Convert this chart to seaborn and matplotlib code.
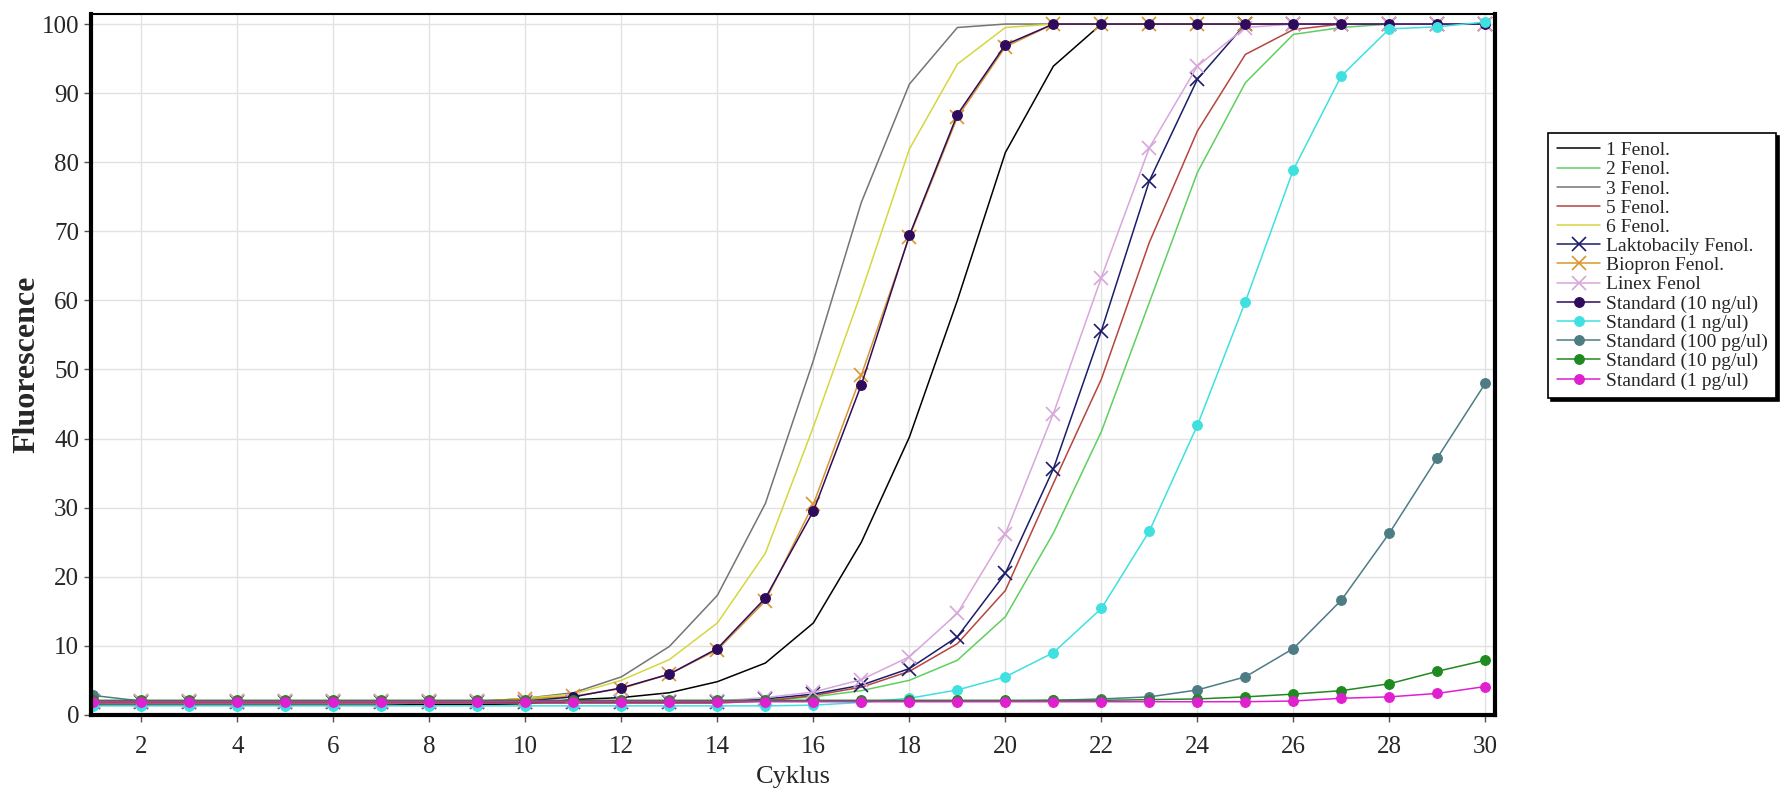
import matplotlib
matplotlib.use("Agg")
import matplotlib.pyplot as plt
import seaborn as sns
import pandas as pd

cycles = list(range(1, 31))

fenol_1 = [1.4, 1.4, 1.4, 1.4, 1.4, 1.4, 1.4, 1.5, 1.5, 1.6,
           2.2, 2.5, 3.2, 4.8, 7.5, 13.3, 25.0, 40.2, 60.0, 81.4,
           93.9, 100, 100, 100, 100, 100, 100, 100, 100, 100]
fenol_2 = [1.8, 1.8, 1.8, 1.8, 1.8, 1.8, 1.8, 1.8, 1.8, 1.8,
           1.8, 1.8, 1.8, 1.8, 2.1, 2.6, 3.5, 5.0, 7.9, 14.2,
           26.3, 41.0, 59.7, 78.5, 91.5, 98.5, 99.5, 100, 100, 100]
fenol_3 = [1.8, 1.8, 1.8, 1.8, 1.8, 1.8, 1.8, 1.8, 1.9, 2.4,
           3.2, 5.5, 9.9, 17.3, 30.6, 51.3, 74.2, 91.3, 99.5, 100,
           100, 100, 100, 100, 100, 100, 100, 100, 100, 100]
fenol_5 = [1.7, 1.7, 1.7, 1.7, 1.7, 1.7, 1.7, 1.7, 1.7, 1.7,
           1.7, 1.7, 1.7, 1.7, 2.0, 2.8, 4.0, 6.3, 10.3, 18.0,
           33.5, 48.6, 68.4, 84.5, 95.6, 99.2, 100, 100, 100, 100]
fenol_6 = [1.9, 1.9, 1.9, 1.9, 1.9, 1.9, 1.9, 1.9, 1.9, 2.4,
           3.0, 5.0, 8.0, 13.3, 23.4, 41.7, 61.2, 81.9, 94.2, 99.5,
           100, 100, 100, 100, 100, 100, 100, 100, 100, 100]
laktobacily = [1.9, 1.9, 1.9, 1.9, 1.9, 1.9, 1.9, 1.9, 1.9, 1.9,
               1.9, 1.9, 1.9, 1.9, 2.3, 3.0, 4.3, 6.7, 11.3, 20.5,
               35.6, 55.6, 77.3, 92.0, 100, 100, 100, 100, 100, 100]
biopron = [2.0, 2.0, 2.0, 2.0, 2.0, 2.0, 2.0, 2.0, 2.0, 2.3,
           2.7, 3.8, 5.9, 9.4, 16.5, 30.5, 49.2, 69.2, 86.5, 96.7,
           100, 100, 100, 100, 100, 100, 100, 100, 100, 100]
linex = [2.0, 2.0, 2.0, 2.0, 2.0, 2.0, 2.0, 2.0, 2.0, 2.0,
         2.0, 2.0, 2.0, 2.0, 2.5, 3.3, 5.1, 8.4, 14.7, 26.2,
         43.6, 63.3, 82.1, 93.9, 99.5, 100, 100, 100, 100, 100]
std_10ng = [2.0, 2.0, 2.0, 2.0, 2.0, 2.0, 2.0, 2.0, 2.0, 2.0,
            2.6, 3.9, 5.9, 9.6, 16.9, 29.5, 47.8, 69.4, 86.9, 97.0,
            100, 100, 100, 100, 100, 100, 100, 100, 100, 100]
std_1ng = [1.3, 1.3, 1.3, 1.3, 1.3, 1.3, 1.3, 1.3, 1.3, 1.3,
           1.3, 1.3, 1.3, 1.3, 1.3, 1.4, 1.8, 2.4, 3.6, 5.5,
           9.0, 15.4, 26.6, 41.9, 59.8, 78.9, 92.5, 99.3, 99.6, 100.3]
std_100pg = [2.8, 2.0, 2.0, 2.0, 2.0, 2.0, 2.0, 2.0, 2.0, 2.0,
             2.0, 2.0, 2.0, 2.0, 2.0, 2.0, 2.0, 2.0, 2.0, 2.0,
             2.1, 2.3, 2.6, 3.6, 5.5, 9.6, 16.6, 26.3, 37.2, 48.0]
std_10pg = [2.1, 2.1, 2.1, 2.1, 2.1, 2.1, 2.1, 2.1, 2.1, 2.1,
            2.1, 2.1, 2.1, 2.1, 2.1, 2.1, 2.1, 2.1, 2.1, 2.1,
            2.1, 2.1, 2.2, 2.3, 2.6, 3.0, 3.5, 4.5, 6.3, 7.9]
std_1pg = [1.9, 1.9, 1.9, 1.9, 1.9, 1.9, 1.9, 1.9, 1.9, 1.9,
           1.9, 1.9, 1.9, 1.9, 1.9, 1.9, 1.9, 1.9, 1.9, 1.9,
           1.9, 1.9, 1.9, 1.9, 1.9, 2.0, 2.4, 2.6, 3.1, 4.1]

labels = ["1 Fenol.", "2 Fenol.", "3 Fenol.", "5 Fenol.", "6 Fenol.",
          "Laktobacily Fenol.", "Biopron Fenol.", "Linex Fenol",
          "Standard (10 ng/ul)", "Standard (1 ng/ul)", "Standard (100 pg/ul)",
          "Standard (10 pg/ul)", "Standard (1 pg/ul)"]
series = [fenol_1, fenol_2, fenol_3, fenol_5, fenol_6, laktobacily, biopron,
          linex, std_10ng, std_1ng, std_100pg, std_10pg, std_1pg]
colors = ["#000000", "#5fcf5f", "#747474", "#b5453f", "#d6d640",
          "#1c1c6b", "#d9962e", "#d9a6dc", "#2e0b5c", "#3fe0e0",
          "#4d7c84", "#1f8a1f", "#e020d0"]
markers = [None, None, None, None, None, "x", "x", "x", "o", "o", "o", "o", "o"]

sns.set_theme(style="white")
plt.rcParams["font.family"] = ["Liberation Serif", "DejaVu Serif"]

fig = plt.figure(figsize=(17.85, 8.05), dpi=100)
ax = fig.add_axes([0.051, 0.112, 0.7865, 0.871])

for lab, vals, col, mk in zip(labels, series, colors, markers):
    df = pd.DataFrame({"Cyklus": cycles, "Fluorescence": vals})
    kw = dict(color=col, linewidth=1.1, label=lab)
    if mk == "x":
        kw.update(marker="x", markersize=10, markeredgewidth=1.2,
                  markeredgecolor=col)
    elif mk == "o":
        kw.update(marker="o", markersize=7, markeredgewidth=0.8,
                  markeredgecolor=col, markerfacecolor=col)
    sns.lineplot(data=df, x="Cyklus", y="Fluorescence", ax=ax, **kw)

ax.set_xlim(0.95, 30.2)
ax.set_ylim(0, 101.5)
ax.set_xticks(range(2, 31, 2))
ax.set_yticks(range(0, 101, 10))
ax.grid(True, color="#e2e2e2", linewidth=1.0)
ax.tick_params(axis="both", which="major", labelsize=18, length=5,
               width=1, color="#555555", direction="out", bottom=True, left=True)
ax.tick_params(axis="x", pad=10)
ax.set_xlabel("Cyklus", fontsize=19, labelpad=6)
ax.set_ylabel("Fluorescence", fontsize=23, fontweight="bold", labelpad=0)

for side, lw in [("left", 3), ("bottom", 3), ("right", 3), ("top", 1.5)]:
    ax.spines[side].set_visible(True)
    ax.spines[side].set_color("black")
    ax.spines[side].set_linewidth(lw)

leg = ax.legend(loc="upper left", bbox_to_anchor=(0.862, 0.847),
                bbox_transform=fig.transFigure, fontsize=14,
                frameon=True, fancybox=False, labelspacing=0.08,
                handlelength=2.2, handletextpad=0.3, borderpad=0.45,
                shadow={"color": "black", "alpha": 1.0})
leg.get_frame().set_edgecolor("black")
leg.get_frame().set_linewidth(1.2)

fig.savefig("out.png", dpi=100, facecolor="white")
